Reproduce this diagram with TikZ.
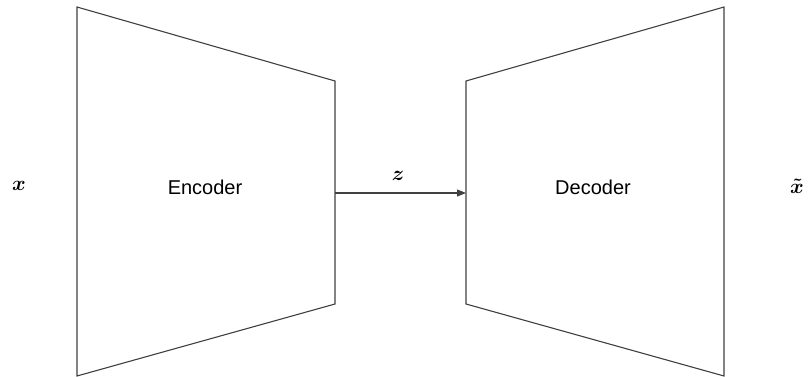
\documentclass[tikz,border=0pt]{standalone}
\usepackage{fontspec}
\setsansfont{Liberation Sans}
\usetikzlibrary{arrows.meta}
\begin{document}
\begin{tikzpicture}[x=1pt,y=-1pt,
  block/.style={draw=black!75,line width=1.1pt,line join=miter},
  label/.style={font=\sffamily\fontsize{20}{24}\selectfont,inner sep=0pt},
  mathlabel/.style={font=\fontsize{21}{24}\selectfont\boldmath,inner sep=0pt},
  link/.style={draw=black!75,line width=1.1pt,-{Triangle[length=9pt,width=7pt]}}]
  \useasboundingbox (0,0) rectangle (808,377);
  % encoder trapezoid
  \draw[block] (77,7) -- (335,81) -- (335,304) -- (77,376) -- cycle;
  % decoder trapezoid
  \draw[block] (466,81) -- (724,7) -- (724,376) -- (466,304) -- cycle;
  \node[label] (enc) at (205,187) {Encoder};
  \node[label] (dec) at (593,187) {Decoder};
  \coordinate (encout) at (335,193);
  \coordinate (decin) at (466,193);
  \draw[link] (encout) -- (decin);
  \node[mathlabel] (z) at (398,176) {$z$};
  \node[mathlabel] (x) at (19,186) {$x$};
  \node[mathlabel] (xt) at (797,186) {$\tilde{x}$};
\end{tikzpicture}
\end{document}
